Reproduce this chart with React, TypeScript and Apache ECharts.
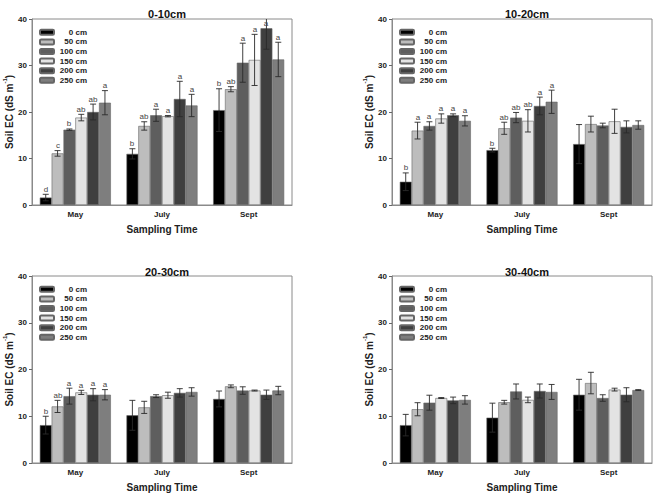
import React, { useEffect, useRef } from "react";
import * as echarts from "echarts";

// Sampling months along the x axis
const months = ["May", "July", "Sept"];
// Distance from the emitter (one bar series each)
const distances = ["0 cm", "50 cm", "100 cm", "150 cm", "200 cm", "250 cm"];
const barColors = ["#000000", "#bdbdbd", "#5e5e5e", "#e3e3e3", "#3f3f3f", "#7e7e7e"];
const panelTitles = ["0-10cm", "10-20cm", "20-30cm", "30-40cm"];
const yTicks = [0, 10, 20, 30, 40];

// Soil EC means [distance][month] for each soil layer, with standard errors and letters
const ec0to10 = [
  [1.6, 11.0, 20.4],
  [11.1, 17.0, 24.9],
  [16.2, 19.3, 30.6],
  [18.8, 19.1, 31.2],
  [20.0, 22.8, 38.0],
  [22.0, 21.4, 31.3],
];
const se0to10 = [
  [0.7, 1.1, 4.6],
  [0.6, 0.9, 0.55],
  [0.15, 1.3, 4.2],
  [0.7, 0.15, 5.5],
  [1.7, 3.8, 4.5],
  [2.6, 2.4, 3.7],
];
const letters0to10 = [
  ["d", "b", "b"],
  ["c", "ab", "ab"],
  ["b", "a", "a"],
  ["ab", "a", "a"],
  ["ab", "a", "a"],
  ["a", "a", "a"],
];

const ec10to20 = [
  [5.0, 11.8, 13.1],
  [16.0, 16.5, 17.4],
  [17.0, 18.8, 17.1],
  [18.6, 18.1, 18.0],
  [19.3, 21.3, 16.8],
  [18.1, 22.2, 17.2],
];
const se10to20 = [
  [1.9, 0.4, 4.2],
  [1.8, 1.3, 1.7],
  [0.9, 1.1, 0.5],
  [1.0, 2.4, 2.6],
  [0.3, 1.9, 1.3],
  [1.1, 2.5, 0.9],
];
const letters10to20 = [
  ["b", "b", ""],
  ["a", "ab", ""],
  ["a", "ab", ""],
  ["a", "ab", ""],
  ["a", "a", ""],
  ["a", "a", ""],
];

const ec20to30 = [
  [8.1, 10.2, 13.7],
  [12.1, 11.9, 16.4],
  [14.3, 14.3, 15.5],
  [15.1, 14.5, 15.5],
  [14.6, 15.0, 14.6],
  [14.6, 15.2, 15.5],
];
const se20to30 = [
  [1.9, 3.2, 1.7],
  [1.3, 1.3, 0.3],
  [1.7, 0.3, 0.8],
  [0.45, 0.65, 0.1],
  [1.3, 0.9, 1.0],
  [1.1, 0.9, 0.9],
];
const letters20to30 = [
  ["b", "", ""],
  ["ab", "", ""],
  ["a", "", ""],
  ["a", "", ""],
  ["a", "", ""],
  ["a", "", ""],
];

const ec30to40 = [
  [8.1, 9.7, 14.6],
  [11.5, 13.0, 17.1],
  [12.9, 15.3, 13.9],
  [13.9, 13.5, 15.7],
  [13.4, 15.4, 14.6],
  [13.5, 15.2, 15.6],
];
const se30to40 = [
  [2.3, 3.1, 3.3],
  [1.4, 0.4, 2.3],
  [1.6, 1.6, 0.7],
  [0.1, 0.6, 0.3],
  [0.7, 1.5, 1.5],
  [0.9, 1.6, 0.1],
];
const letters30to40 = [
  ["", "", ""],
  ["", "", ""],
  ["", "", ""],
  ["", "", ""],
  ["", "", ""],
  ["", "", ""],
];

const panelMeans = [ec0to10, ec10to20, ec20to30, ec30to40];
const panelErrors = [se0to10, se10to20, se20to30, se30to40];
const panelLetters = [letters0to10, letters10to20, letters20to30, letters30to40];

const FONT = "Liberation Sans, Arial, sans-serif";
const CATEGORY_GAP = 0.18;

export default function App() {
  const ref = useRef<HTMLDivElement>(null);

  useEffect(() => {
    if (!ref.current) return;
    const chart = echarts.init(ref.current, null, { renderer: "svg" });

    const grids = [
      { left: 32, top: 19, width: 260, height: 186 },
      { left: 392, top: 19, width: 260, height: 186 },
      { left: 32, top: 276, width: 260, height: 187 },
      { left: 392, top: 276, width: 260, height: 187 },
    ];
    const yMax = yTicks[yTicks.length - 1];

    const series: any[] = [];
    panelMeans.forEach((means, p) => {
      means.forEach((vals, k) => {
        series.push({
          type: "bar",
          name: distances[k],
          xAxisIndex: p,
          yAxisIndex: p,
          data: vals,
          barGap: "0%",
          barCategoryGap: CATEGORY_GAP * 100 + "%",
          itemStyle: { color: barColors[k], borderColor: "#666", borderWidth: 0.6 },
        });
      });

      const items: number[][] = [];
      const labels: string[] = [];
      means.forEach((vals, k) => {
        vals.forEach((v, m) => {
          items.push([m, k, v, panelErrors[p][k][m]]);
          labels.push(panelLetters[p][k][m]);
        });
      });

      series.push({
        type: "custom",
        xAxisIndex: p,
        yAxisIndex: p,
        z: 5,
        clip: true,
        itemStyle: { color: "#444" },
        data: items,
        renderItem: (params: any, api: any) => {
          const cat = api.value(0);
          const k = api.value(1);
          const mean = api.value(2);
          const err = api.value(3);
          const base = api.coord([cat, 0]);
          const band = api.size([1, 0])[0];
          const barW = (band * (1 - CATEGORY_GAP)) / 6;
          const x = base[0] + (k - 2.5) * barW;
          const yTop = api.coord([cat, mean + err])[1];
          const yBot = api.coord([cat, mean - err])[1];
          const yLimit = api.coord([cat, yMax])[1];
          const cap = 3;
          const lineStyle = { stroke: "#2a2a2a", lineWidth: 0.9 };
          const children: any[] = [
            { type: "line", shape: { x1: x, y1: yTop, x2: x, y2: yBot }, style: lineStyle },
            { type: "line", shape: { x1: x - cap, y1: yTop, x2: x + cap, y2: yTop }, style: lineStyle },
            { type: "line", shape: { x1: x - cap, y1: yBot, x2: x + cap, y2: yBot }, style: lineStyle },
          ];
          const letter = labels[params.dataIndex];
          if (letter) {
            const ly = Math.max(yTop - 1.5, yLimit + 8);
            children.push({
              type: "text",
              x: Math.round(x),
              y: Math.round(ly),
              style: {
                text: letter,
                fill: "#444444",
                fontFamily: FONT,
                fontSize: 8,
                align: "center",
                verticalAlign: "bottom",
              },
            });
          }
          return { type: "group", children };
        },
      });
    });

    const option: any = {
      animation: false,
      backgroundColor: "#ffffff",
      title: grids.map((g, i) => ({
        text: panelTitles[i],
        left: g.left + g.width / 2,
        top: i >= 2 ? 261 : 3,
        textAlign: "center",
        textStyle: { fontFamily: FONT, fontSize: 11, fontWeight: "bold", color: "#111" },
      })),
      legend: grids.map((g) => ({
        data: distances,
        orient: "vertical",
        left: g.left + 7,
        top: g.top + 9,
        itemWidth: 14,
        itemHeight: 5,
        itemGap: 1,
        padding: 0,
        selectedMode: false,
        formatter: (name: string) => `{t|${name}}`,
        textStyle: {
          fontFamily: FONT,
          fontSize: 8,
          fontWeight: "bold",
          color: "#222",
          lineHeight: 8.6,
          rich: {
            t: {
              width: 28,
              align: "right",
              fontFamily: FONT,
              fontSize: 8,
              fontWeight: "bold",
              color: "#222",
              lineHeight: 8.6,
            },
          },
        },
      })),
      grid: grids.map((g) => ({
        ...g,
        show: true,
        borderColor: "#8a8a8a",
        borderWidth: 1,
        backgroundColor: "transparent",
      })),
      xAxis: grids.map((_, i) => ({
        type: "category",
        gridIndex: i,
        data: months,
        name: "Sampling Time",
        nameLocation: "middle",
        nameGap: 19,
        nameTextStyle: { fontFamily: FONT, fontSize: 10, fontWeight: "bold", color: "#222" },
        axisLine: { show: true, lineStyle: { color: "#8a8a8a", width: 1 } },
        axisTick: { show: false },
        axisLabel: { fontFamily: FONT, fontSize: 8, fontWeight: "bold", color: "#222", margin: 5 },
        splitLine: { show: false },
      })),
      yAxis: grids.map((_, i) => ({
        type: "value",
        gridIndex: i,
        min: yTicks[0],
        max: yMax,
        interval: 10,
        name: "{a|Soil EC (dS m}{s|-1}{a|)}",
        nameLocation: "middle",
        nameGap: 18,
        nameTextStyle: {
          rich: {
            a: { fontFamily: FONT, fontSize: 10, fontWeight: "bold", color: "#222", lineHeight: 12, verticalAlign: "bottom" },
            s: { fontFamily: FONT, fontSize: 6, fontWeight: "bold", color: "#222", lineHeight: 12, verticalAlign: "top" },
          },
        },
        axisLine: { show: true, lineStyle: { color: "#8a8a8a", width: 1 } },
        axisTick: { show: true, inside: false, length: 3, lineStyle: { color: "#666" } },
        axisLabel: { fontFamily: FONT, fontSize: 8, fontWeight: "bold", color: "#222", margin: 5 },
        splitLine: { show: false },
      })),
      series,
    };

    chart.setOption(option);
    return () => chart.dispose();
  }, []);

  return (
    <div
      ref={ref}
      style={{ position: "absolute", left: 0, top: 0, width: 654, height: 495, background: "#fff" }}
    />
  );
}
